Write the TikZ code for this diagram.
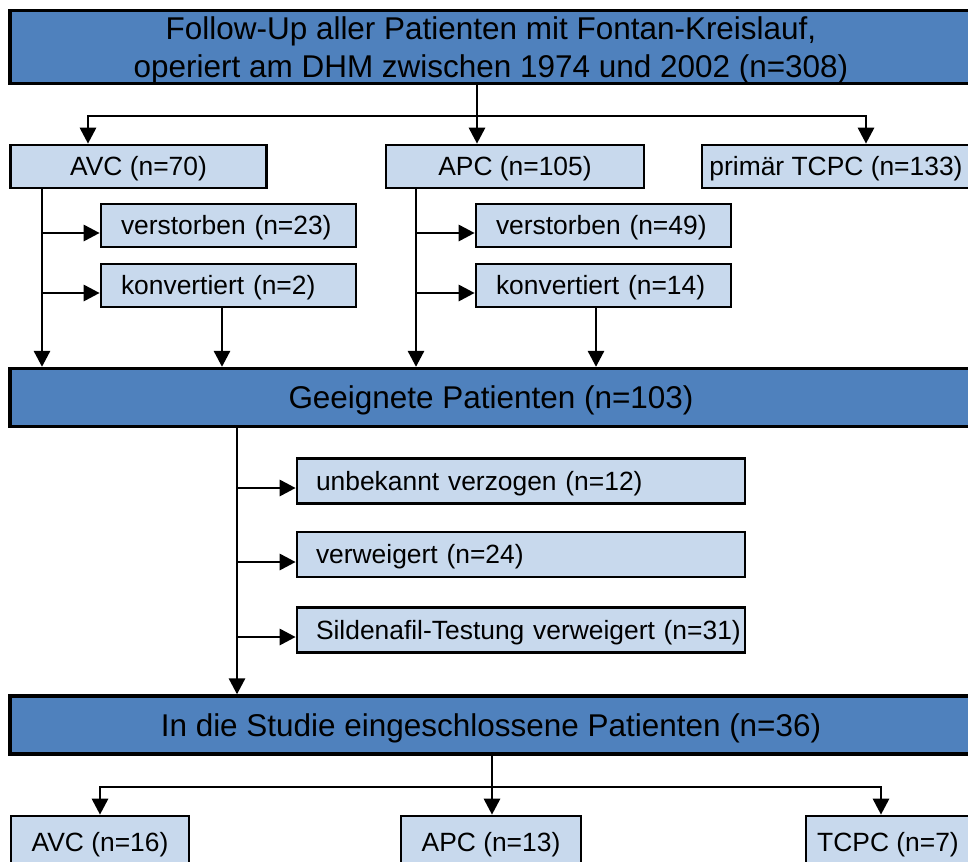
\documentclass[tikz,border=0pt]{standalone}
\usepackage{fontspec}
\setmainfont{Liberation Sans}
\usetikzlibrary{arrows.meta}
\definecolor{darkfill}{HTML}{4F81BD}
\definecolor{lightfill}{HTML}{C8D9ED}
\begin{document}
\begin{tikzpicture}[x=0.75pt,y=-0.75pt,
  bigbox/.style={draw=black, line width=2.5pt, fill=darkfill, inner sep=0pt,
    font=\fontsize{23.6}{28.1}\selectfont, align=center, minimum width=721.5pt,
    text height=19pt, text depth=2.1pt},
  smallbox/.style={draw=black, line width=2pt, fill=lightfill, inner sep=0pt,
    font=\fontsize{19.8}{23}\selectfont, minimum height=32.25pt,
    text height=16pt, text depth=1.8pt},
  padl/.style={text width=#1, align=left},
  conn/.style={line width=2.2pt},
  arr/.style={conn, -{Triangle[width=12pt,length=12pt]}}
]
\useasboundingbox (0,0) rectangle (968,861);
\clip (0,0) rectangle (968,861);

% main boxes
\node[bigbox, minimum height=54.75pt, text height=46pt, text depth=1pt] (top) at (491,47)
  {Follow-Up aller Patienten mit Fontan-Kreislauf,\\operiert am DHM zwischen 1974 und 2002 (n=308)};
\node[bigbox, minimum height=43.5pt] (geeig) at (491,397.5) {Geeignete Patienten (n=103)};
\node[bigbox, minimum height=43.5pt] (studie) at (491,725) {In die Studie eingeschlossene Patienten (n=36)};

% first level
\node[smallbox, minimum width=192pt] (avc1) at (138.5,166.5) {AVC (n=70)};
\node[smallbox, minimum width=193.5pt] (apc1) at (515,166.5) {APC (n=105)};
\node[smallbox, minimum width=201pt] (tcpc1) at (836,166.5) {primär TCPC (n=133)};

% exclusions AVC / APC
\node[smallbox, minimum width=191.25pt, padl=161.25pt] (ver1) at (228.5,225.5) {\mbox{verstorben (n=23)}};
\node[smallbox, minimum width=191.25pt, padl=161.25pt] (kon1) at (228.5,285.5) {\mbox{konvertiert (n=2)}};
\node[smallbox, minimum width=191.25pt, padl=161.25pt] (ver2) at (603.5,225.5) {\mbox{verstorben (n=49)}};
\node[smallbox, minimum width=191.25pt, padl=161.25pt] (kon2) at (603.5,285.5) {\mbox{konvertiert (n=14)}};

% exclusions after Geeignete
\node[smallbox, minimum width=336pt, minimum height=33.75pt, padl=307.5pt] (unb) at (521,481) {\mbox{unbekannt verzogen (n=12)}};
\node[smallbox, minimum width=336pt, minimum height=33.75pt, padl=307.5pt] (verw) at (521,554.5) {\mbox{verweigert (n=24)}};
\node[smallbox, minimum width=336pt, minimum height=33.75pt, padl=307.5pt] (sild) at (521,630) {\mbox{Sildenafil-Testung verweigert (n=31)}};

% bottom
\node[smallbox, minimum width=133.5pt, minimum height=39pt] (b1) at (100,842) {AVC (n=16)};
\node[smallbox, minimum width=135pt, minimum height=39pt] (b2) at (491,842) {APC (n=13)};
\node[smallbox, minimum width=123pt, minimum height=39pt] (b3) at (888,842) {TCPC (n=7)};

% helper coordinates
\coordinate (xa) at (88,0);
\coordinate (xm) at (477,0);
\coordinate (xt) at (866,0);
\coordinate (hy) at (0,116);
\coordinate (ba) at (42,0);
\coordinate (bk1) at (222,0);
\coordinate (bp) at (416,0);
\coordinate (bk2) at (596,0);
\coordinate (y1) at (0,233);
\coordinate (y2) at (0,293);
\coordinate (bg) at (237,0);
\coordinate (yu) at (0,488);
\coordinate (yv) at (0,562);
\coordinate (ys) at (0,637);
\coordinate (xs) at (492,0);
\coordinate (hb) at (0,787);
\coordinate (xb1) at (100,0);
\coordinate (xb3) at (881,0);

% top split
\draw[conn] (top.south -| xm) -- (xm |- hy);
\draw[arr] (xm |- hy) -| (avc1.north -| xa);
\draw[arr] (xm |- hy) -| (tcpc1.north -| xt);
\draw[arr] (xm |- hy) -- (apc1.north -| xm);

% AVC branch
\draw[arr] (avc1.south -| ba) -- (geeig.north -| ba);
\draw[arr] (ba |- y1) -- (ver1.west |- y1);
\draw[arr] (ba |- y2) -- (kon1.west |- y2);
\draw[arr] (kon1.south -| bk1) -- (geeig.north -| bk1);

% APC branch
\draw[arr] (apc1.south -| bp) -- (geeig.north -| bp);
\draw[arr] (bp |- y1) -- (ver2.west |- y1);
\draw[arr] (bp |- y2) -- (kon2.west |- y2);
\draw[arr] (kon2.south -| bk2) -- (geeig.north -| bk2);

% Geeignete branch
\draw[arr] (geeig.south -| bg) -- (studie.north -| bg);
\draw[arr] (bg |- yu) -- (unb.west |- yu);
\draw[arr] (bg |- yv) -- (verw.west |- yv);
\draw[arr] (bg |- ys) -- (sild.west |- ys);

% bottom split
\draw[conn] (studie.south -| xs) -- (xs |- hb);
\draw[arr] (xs |- hb) -| (b1.north -| xb1);
\draw[arr] (xs |- hb) -| (b3.north -| xb3);
\draw[arr] (xs |- hb) -- (b2.north -| xs);
\end{tikzpicture}
\end{document}
